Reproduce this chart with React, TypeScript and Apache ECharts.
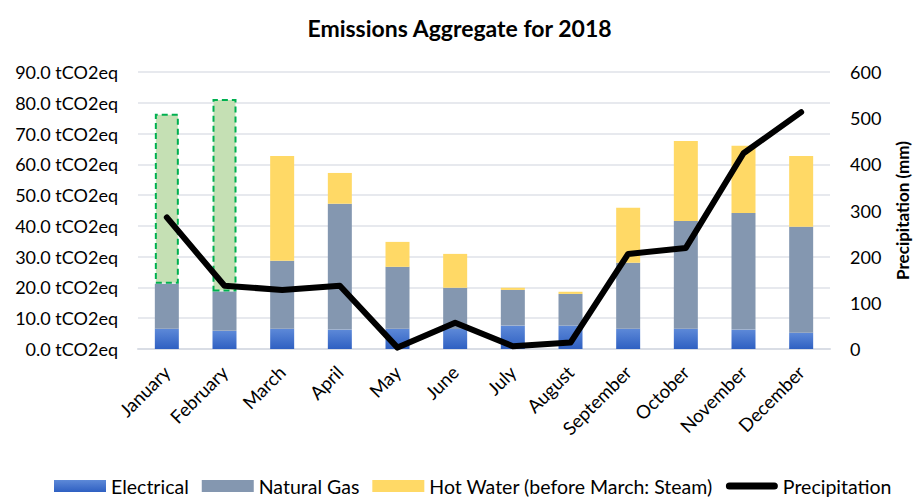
import React, { useEffect, useRef } from "react";
import * as echarts from "echarts";

// Monthly emissions (tCO2eq) and precipitation (mm) for 2018
const months = [
  "January", "February", "March", "April", "May", "June",
  "July", "August", "September", "October", "November", "December",
];
const electrical = [6.6, 5.9, 6.6, 6.3, 6.6, 6.5, 7.6, 7.6, 6.6, 6.6, 6.3, 5.3];
const naturalGas = [14.6, 12.8, 22.1, 40.9, 20.1, 13.4, 11.6, 10.3, 21.4, 35.0, 37.9, 34.4];
// January and February were supplied as steam, the rest as hot water
const hotWater = [55.2, 62.5, 34.0, 10.0, 8.1, 11.0, 0.7, 0.7, 17.9, 26.0, 21.8, 23.0];
const steamMonths = ["January", "February"];
const precipitation = [285, 137, 128, 137, 3, 57, 6, 14, 206, 219, 424, 513];

const leftTicks = { min: 0, max: 90, interval: 10 };
const rightTicks = { min: 0, max: 600, interval: 100 };

const FONT = "Lato, 'Open Sans', sans-serif";
// rounded bar used as the legend marker of the precipitation line
const PILL = "path://M4,0 L54,0 A4,4 0 0 1 54,8 L4,8 A4,4 0 0 1 4,0 Z";

export default function App() {
  const ref = useRef<HTMLDivElement>(null);

  useEffect(() => {
    document.body.style.margin = "0";
    if (!ref.current) return;
    const chart = echarts.init(ref.current, null, { renderer: "svg" });

    const hotWaterData = hotWater.map((v, i) =>
      steamMonths.includes(months[i])
        ? {
            value: v,
            itemStyle: {
              color: "#c5e0b4",
              borderColor: "#00b050",
              borderWidth: 2,
              borderType: [6, 4],
            },
          }
        : v
    );

    chart.setOption({
      animation: false,
      textStyle: { fontFamily: FONT },
      title: {
        text: "Emissions Aggregate for 2018",
        left: "center",
        top: 11,
        textStyle: { fontFamily: FONT, fontSize: 23, fontWeight: "bold", color: "#000" },
      },
      legend: {
        bottom: 1,
        left: 54,
        padding: 0,
        itemWidth: 52,
        itemHeight: 12,
        itemGap: 13,
        textStyle: { fontFamily: FONT, fontSize: 19.5, color: "#000" },
        data: [
          { name: "Electrical", icon: "rect" },
          { name: "Natural Gas", icon: "rect" },
          { name: "Hot Water (before March: Steam)", icon: "rect", itemStyle: { color: "#ffd966", borderWidth: 0 } },
          { name: "Precipitation", icon: PILL, itemStyle: { color: "#000" } },
        ],
      },
      grid: { left: 138, right: 87, top: 72, bottom: 148 },
      xAxis: {
        type: "category",
        data: months,
        axisLine: { lineStyle: { color: "#d9dde5", width: 2 } },
        axisTick: { show: false },
        axisLabel: {
          rotate: 45,
          fontFamily: FONT,
          fontSize: 18.5,
          color: "#000",
          margin: 20,
          interval: 0,
        },
      },
      yAxis: [
        {
          type: "value",
          min: leftTicks.min,
          max: leftTicks.max,
          interval: leftTicks.interval,
          axisLabel: {
            formatter: (v: number) => v.toFixed(1) + " tCO2eq",
            fontFamily: FONT,
            fontSize: 18,
            color: "#000",
            margin: 20,
          },
          splitLine: { lineStyle: { color: "#dfe2e8", width: 1.5 } },
          axisLine: { show: false },
          axisTick: { show: false },
        },
        {
          type: "value",
          min: rightTicks.min,
          max: rightTicks.max,
          interval: rightTicks.interval,
          name: "Precipitation (mm)",
          nameLocation: "middle",
          nameGap: 64,
          nameRotate: 90,
          nameTextStyle: { fontFamily: FONT, fontSize: 17, fontWeight: "bold", color: "#000" },
          axisLabel: { fontFamily: FONT, fontSize: 18, color: "#000", margin: 20 },
          splitLine: { show: false },
          axisLine: { show: false },
          axisTick: { show: false },
        },
      ],
      series: [
        {
          name: "Electrical",
          type: "bar",
          stack: "emissions",
          barWidth: 24,
          data: electrical,
          itemStyle: {
            color: new echarts.graphic.LinearGradient(0, 0, 0, 1, [
              { offset: 0, color: "#5d89d8" },
              { offset: 1, color: "#2f60c2" },
            ]),
          },
        },
        {
          name: "Natural Gas",
          type: "bar",
          stack: "emissions",
          barWidth: 24,
          data: naturalGas,
          itemStyle: { color: "#8497b0" },
        },
        {
          name: "Hot Water (before March: Steam)",
          type: "bar",
          stack: "emissions",
          barWidth: 24,
          data: hotWaterData,
          itemStyle: { color: "#ffd966" },
        },
        {
          name: "Precipitation",
          type: "line",
          yAxisIndex: 1,
          data: precipitation,
          symbol: "none",
          showSymbol: false,
          itemStyle: { color: "#000" },
          lineStyle: { color: "#000", width: 6, cap: "round", join: "round" },
          z: 5,
        },
      ],
    });

    return () => chart.dispose();
  }, []);

  return (
    <div
      ref={ref}
      style={{ position: "absolute", left: 0, top: 0, width: 919, height: 497, background: "#fff" }}
    />
  );
}
